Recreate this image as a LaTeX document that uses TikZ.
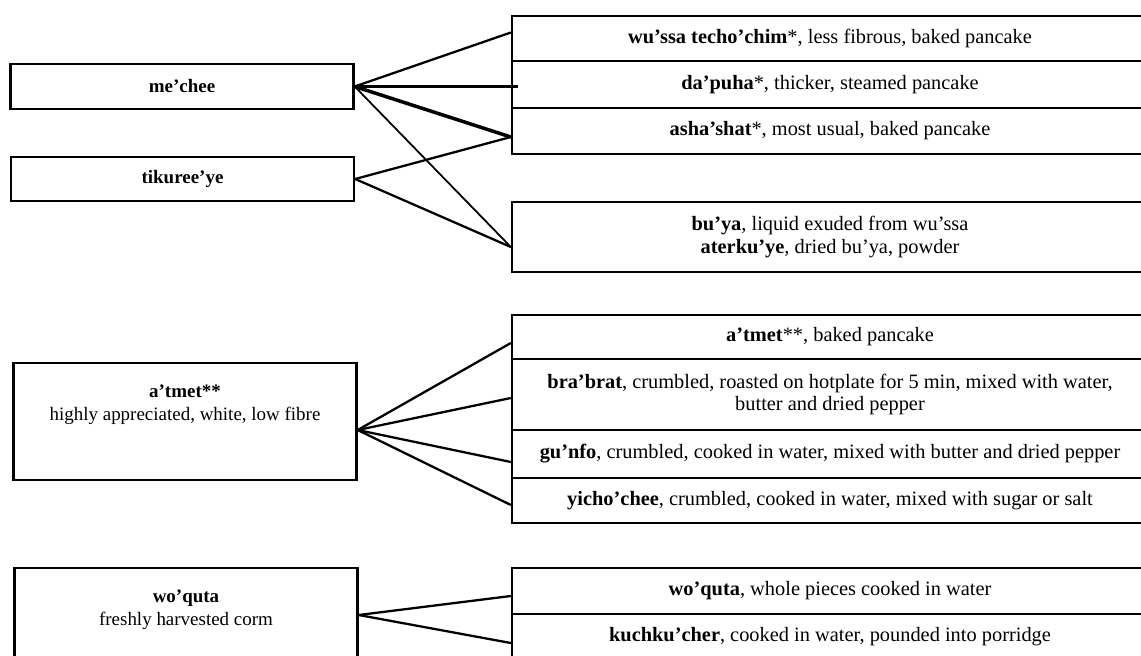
\documentclass[tikz,border=0pt]{standalone}
\usepackage{fontspec}
\setmainfont{Liberation Serif}
\usetikzlibrary{calc}

\begin{document}
\begin{tikzpicture}[
    x=0.02cm, y=-0.02cm,
    every node/.style={font=\fontsize{10.8}{13}\selectfont},
    raw/.style={draw, line width=1.4pt, minimum width=6.86cm, inner sep=0pt, align=center},
    dish/.style={draw, line width=1.4pt, minimum width=12.72cm, inner sep=0pt, align=center,
        font=\fontsize{11.6}{12.6}\selectfont},
    conn/.style={line width=1.3pt}
]
    \useasboundingbox (0,0) rectangle (1141,655);

    \node[raw, minimum height=0.9cm] (mechee) at (182,86.5) {\textbf{me’chee}};
    \node[raw, minimum height=0.88cm] (tikureeye) at (182.5,179) {\textbf{tikuree’ye}};
    \node[raw, minimum height=2.34cm] (atmet) at (185,421.5) {};
    \node[anchor=north, align=center] (atmettxt) at ($(atmet.north)+(0,17)$) {\textbf{a’tmet**}\\highly appreciated, white, low fibre};
    \node[raw, minimum height=2.34cm] (woquta) at (186,626.5) {};
    \node[anchor=north, align=center] (woqutatxt) at ($(woquta.north)+(0,17)$) {\textbf{wo’quta}\\freshly harvested corm};

    \node[dish, minimum height=0.9cm] (wussa) at (830,38.5) {\textbf{wu’ssa techo’chim}*, less fibrous, baked pancake};
    \node[dish, minimum height=0.94cm] (dapuha) at (830,84.5) {\textbf{da’puha}*, thicker, steamed pancake};
    \node[dish, minimum height=0.92cm] (ashashat) at (830,131) {\textbf{asha’shat}*, most usual, baked pancake};
    \node[dish, minimum height=1.4cm] (buya) at (830,237) {\textbf{bu’ya}, liquid exuded from wu’ssa\\\textbf{aterku’ye}, dried bu’ya, powder};

    \node[dish, minimum height=0.88cm] (atmetcake) at (830,337) {\textbf{a’tmet}**, baked pancake};
    \node[dish, minimum height=1.42cm] (brabrat) at (830,394.5) {\textbf{bra’brat}, crumbled, roasted on hotplate for 5 min, mixed with water,\\butter and dried pepper};
    \node[dish, minimum height=0.96cm] (gunfo) at (830,454) {\textbf{gu’nfo}, crumbled, cooked in water, mixed with butter and dried pepper};
    \node[dish, minimum height=0.9cm] (yichochee) at (830,500.5) {\textbf{yicho’chee}, crumbled, cooked in water, mixed with sugar or salt};

    \node[dish, minimum height=0.92cm] (woqutawhole) at (830,591) {\textbf{wo’quta}, whole pieces cooked in water};
    \node[dish, minimum height=0.92cm] (kuchku) at (830,637) {\textbf{kuchku’cher}, cooked in water, pounded into porridge};

    \coordinate (ashashatin) at ($(ashashat.west)+(0,6)$);
    \coordinate (buyain) at ($(buya.west)+(0,10)$);
    \coordinate (atmetout) at ($(atmet.east)+(0,8.5)$);
    \coordinate (woqutaout) at ($(woquta.east)+(0,-11.5)$);

    \draw[conn] (mechee.east) -- ($(wussa.west)+(0,-6)$);
    \draw[conn] (mechee.east) -- ($(mechee.east -| dapuha.west)+(7,0)$);
    \draw[conn, line width=2pt] (mechee.east) -- (ashashatin);
    \draw[conn, line width=1pt] (mechee.east) -- (buyain);
    \draw[conn] (tikureeye.east) -- (ashashatin);
    \draw[conn] (tikureeye.east) -- (buyain);

    \draw[conn] (atmetout) -- ($(atmetcake.west)+(0,6)$);
    \draw[conn] (atmetout) -- ($(brabrat.west)+(0,3.5)$);
    \draw[conn] (atmetout) -- ($(gunfo.west)+(0,8)$);
    \draw[conn] (atmetout) -- ($(yichochee.west)+(0,4.5)$);

    \draw[conn] (woqutaout) -- ($(woqutawhole.west)+(0,5)$);
    \draw[conn] (woqutaout) -- ($(kuchku.west)+(0,6)$);
\end{tikzpicture}
\end{document}
